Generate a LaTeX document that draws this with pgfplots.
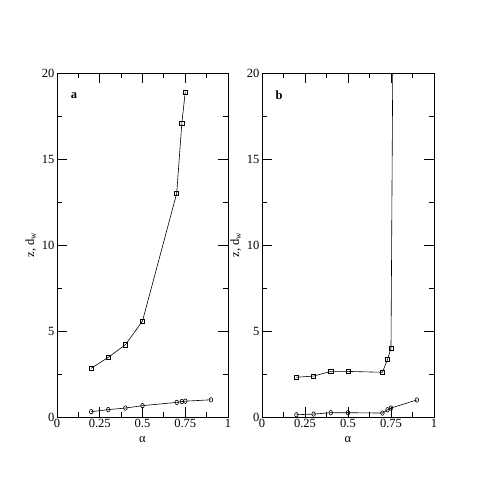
\documentclass[border=0pt]{standalone}
\usepackage{fontspec}
\setmainfont{Liberation Serif}
\usepackage{pgfplots}
\pgfplotsset{compat=1.18}

\pgfplotsset{
  panel/.style={
    scale only axis,
    anchor=south west,
    xmin=0, xmax=1, ymin=0, ymax=20,
    xtick={0,0.25,0.5,0.75,1},
    xticklabels={0,0.25,0.5,0.75,1},
    ytick={0,5,10,15,20},
    minor xtick={0.125,0.375,0.625,0.875},
    minor ytick={2.5,7.5,12.5,17.5},
    xtick pos=both, ytick pos=both,
    tick align=inside,
    major tick length=10pt, minor tick length=5pt,
    axis line style={line width=0.9pt},
    every tick/.style={black, line width=0.8pt},
    tick label style={font=\fontsize{12.5}{14}\selectfont},
    xticklabel style={yshift=1pt},
    yticklabel style={xshift=1pt},
    label style={font=\fontsize{12.5}{14}\selectfont},
    /pgf/number format/assume math mode=true,
    xlabel={α},
    ylabel={z, d\textsubscript{w}},
    xlabel style={yshift=-2pt},
    ylabel style={yshift=-1pt},
    clip=true,
  },
  sq/.style={black, line width=0.6pt, mark=square, mark size=2.1pt, mark options={solid, line width=0.6pt}},
  ci/.style={black, line width=0.6pt, mark=o, mark size=1.8pt, mark options={solid, line width=0.6pt, yscale=1.25}},
}

\begin{document}
\begin{tikzpicture}[x=1pt,y=1pt]
\path (0,0) rectangle (491,491);

\begin{axis}[panel, at={(57pt,74pt)}, width=171pt, height=344pt]
\addplot[sq] coordinates {(0.2,2.83) (0.3,3.47) (0.4,4.2) (0.5,5.58) (0.7,13.0) (0.73,17.07) (0.75,18.9)};
\addplot[ci] coordinates {(0.2,0.31) (0.3,0.43) (0.4,0.52) (0.5,0.66) (0.7,0.85) (0.73,0.9) (0.75,0.92) (0.9,1.0)};
\node[font=\fontsize{12.5}{14}\selectfont\bfseries] at (axis cs:0.1,18.7) {a};
\end{axis}

\begin{axis}[panel, at={(262pt,74pt)}, width=172pt, height=344pt]
\addplot[sq] coordinates {(0.2,2.31) (0.3,2.38) (0.4,2.65) (0.5,2.65) (0.7,2.6) (0.73,3.35) (0.75,4.01) (0.7625,24)};
\addplot[ci] coordinates {(0.2,0.13) (0.3,0.17) (0.4,0.25) (0.5,0.25) (0.7,0.23) (0.73,0.42) (0.75,0.52) (0.9,0.99)};
\node[font=\fontsize{12.5}{14}\selectfont\bfseries] at (axis cs:0.1,18.7) {b};
\end{axis}
\end{tikzpicture}
\end{document}
